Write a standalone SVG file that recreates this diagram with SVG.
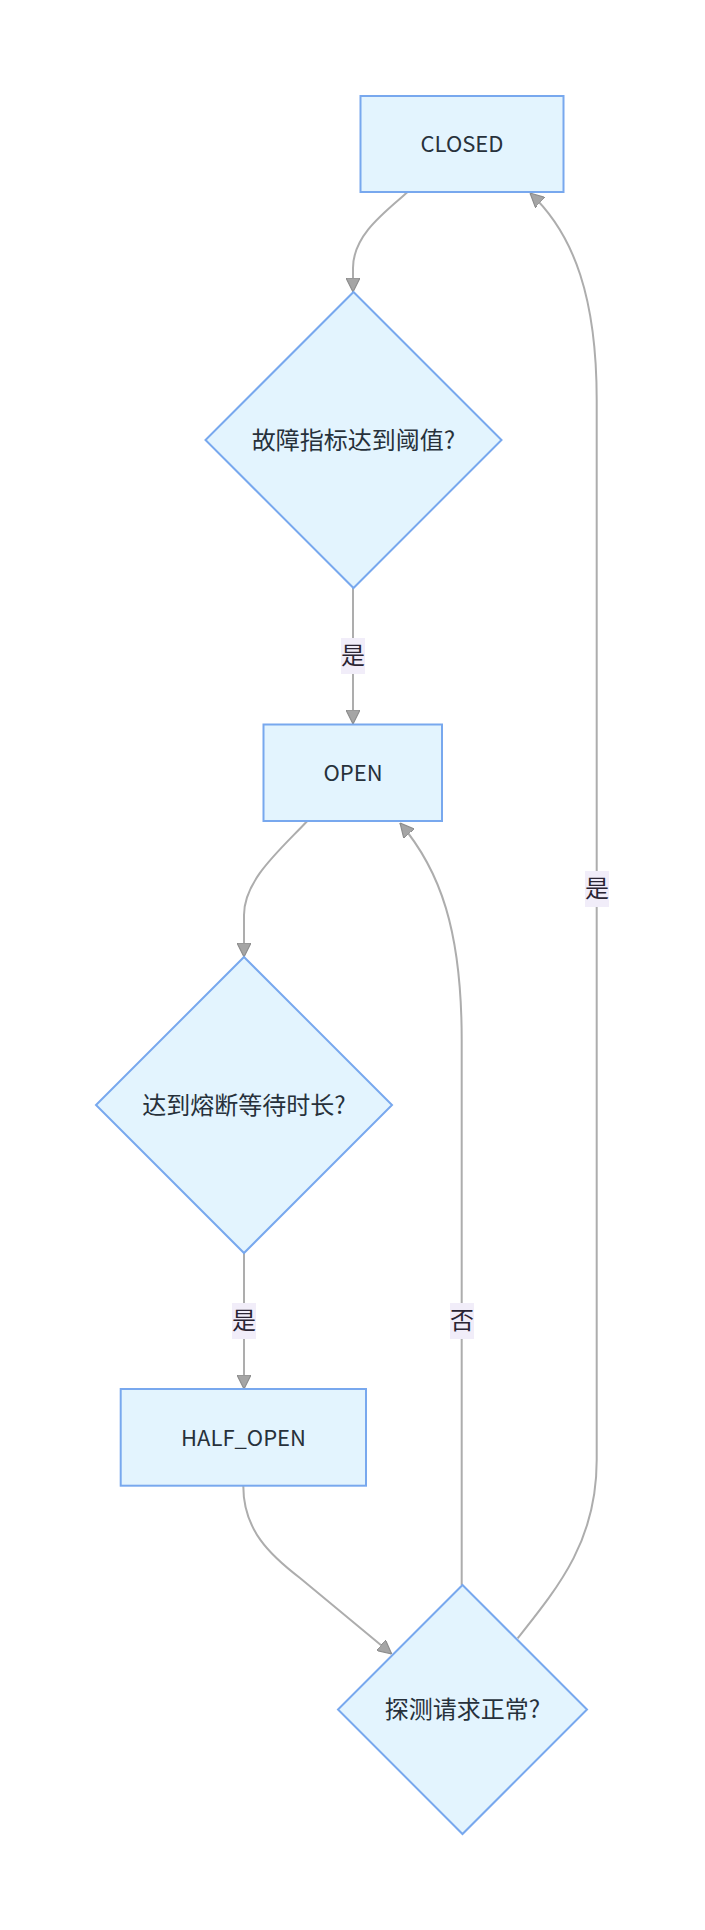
<svg xmlns="http://www.w3.org/2000/svg" width="705" height="1930" viewBox="0 0 705 1930">
<defs>
<style>
.node rect,.node polygon{fill:#e3f4fe;stroke:#78a8ee;stroke-width:2}
.node text{font-family:"Noto Sans CJK SC","Noto Sans",sans-serif;font-size:24px;fill:#27313b;text-anchor:middle}
.node text.lat{font-size:22px}
.edge{fill:none;stroke:#adadad;stroke-width:2;marker-end:url(#arr)}
.elabel rect{fill:#f1edf9;stroke:none}
.elabel text{font-family:"Noto Sans CJK SC",sans-serif;font-size:24px;fill:#2a2433;text-anchor:middle}
</style>
<marker id="arr" viewBox="0 0 10 10" refX="10" refY="5" markerUnits="userSpaceOnUse" markerWidth="14" markerHeight="14" orient="auto">
<path d="M0,0 L10,5 L0,10 z" fill="#a5a5a5" stroke="#8c8c8c" stroke-width="0.8"/>
</marker>
</defs>
<rect width="705" height="1930" fill="#ffffff"/>
<g id="connectors">
<path class="edge" d="M407.3,192.3 C385,212 353,235 353,268 L353,292"/>
<path class="edge" d="M353,588 L353,724"/>
<path class="edge" d="M307.3,821 C280,850 244,880 244,915 L244,957"/>
<path class="edge" d="M244,1253 L244,1389"/>
<path class="edge" d="M243.3,1486 C243.3,1530 270,1555 300,1578 L391.7,1654"/>
<path class="edge" d="M461.7,1585 L461.7,1040 C461.7,930 440,870 400,823"/>
<path class="edge" d="M517.7,1638.3 C560,1585 596.7,1540 596.7,1460 L596.7,400 C596.7,300 575,235 530,193"/>
<g class="elabel"><rect x="341" y="638" width="24" height="36"/><text x="353" y="664">是</text></g>
<g class="elabel"><rect x="232" y="1303" width="24" height="36"/><text x="244" y="1329">是</text></g>
<g class="elabel"><rect x="450" y="1303" width="24" height="36"/><text x="462" y="1329">否</text></g>
<g class="elabel"><rect x="585" y="871" width="24" height="36"/><text x="597" y="897">是</text></g>
</g>
<g id="closed" class="node"><rect x="360.5" y="96" width="203" height="96"/><text class="lat" x="462" y="152">CLOSED</text></g>
<g id="check_threshold" class="node"><polygon points="353.5,292 501.5,440 353.5,588 205.5,440"/><text x="353.5" y="448.5">故障指标达到阈值?</text></g>
<g id="open" class="node"><rect x="263.5" y="724.5" width="178.5" height="96.5"/><text class="lat" x="353" y="781">OPEN</text></g>
<g id="check_wait" class="node"><polygon points="244,957 392,1105 244,1253 96,1105"/><text x="244" y="1113.5">达到熔断等待时长?</text></g>
<g id="half_open" class="node"><rect x="120.7" y="1389" width="245.3" height="96.7"/><text class="lat" x="243.5" y="1445.5">HALF_OPEN</text></g>
<g id="probe" class="node"><polygon points="462.5,1585 587,1709.5 462.5,1834 338,1709.5"/><text x="462.5" y="1718">探测请求正常?</text></g>
</svg>
